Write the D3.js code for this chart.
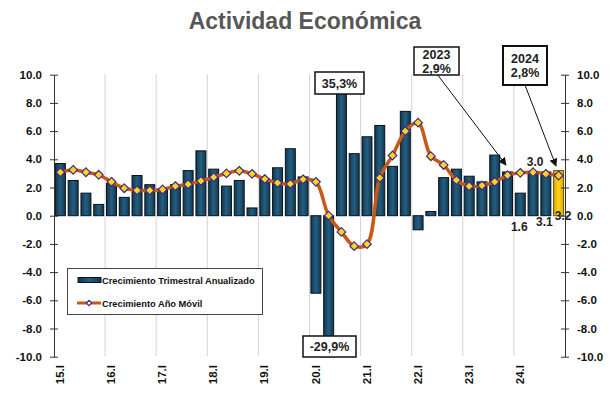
<!DOCTYPE html>
<html>
<head>
<meta charset="utf-8">
<script src="https://cdn.jsdelivr.net/npm/d3@7"></script>
<style>
body { margin: 0; background: #fff; }
text { font-family: "Liberation Sans", Arial, sans-serif; }
</style>
</head>
<body>
<div id="chart"></div>
<script>
// quarters 2015.I .. 2024.IV
var years = ["15", "16", "17", "18", "19", "20", "21", "22", "23", "24"];
var quarters = [];
years.forEach(function(y) { ["I", "II", "III", "IV"].forEach(function(q) { quarters.push(y + "." + q); }); });

// Crecimiento Trimestral Anualizado
var trimestral = [3.7, 2.5, 1.6, 0.8, 2.3, 1.3, 2.85, 2.2,
                  1.9, 2.2, 3.2, 4.6, 3.3, 2.1, 2.5, 0.55,
                  2.6, 3.4, 4.75, 2.75, -5.5, -29.9, 35.3, 4.4,
                  5.6, 6.4, 3.5, 7.4, -1.0, 0.3, 2.7, 3.3,
                  2.8, 2.4, 4.3, 3.1, 1.6, 3.0, 3.1, 3.2];

// Crecimiento Año Móvil
var anioMovil = [3.08, 3.25, 3.08, 2.9, 2.4, 1.95, 1.8, 1.8,
                 1.86, 2.1, 2.23, 2.47, 2.73, 3.0, 3.18, 2.97,
                 2.6, 2.33, 2.26, 2.58, 2.4, 0.0, -1.15, -2.16,
                 -2.02, 2.68, 4.27, 6.0, 6.6, 4.22, 3.6, 2.52,
                 2.09, 2.14, 2.4, 2.87, 3.04, 3.08, 2.97, 2.85];

var yTicks = [10, 8, 6, 4, 2, 0, -2, -4, -6, -8, -10];

var W = 614, H = 394;
var pLeft = 54, pRight = 565, pTop = 74.7, pBottom = 356.7;

var svg = d3.select("#chart").append("svg")
    .attr("width", W)
    .attr("height", H);

var pad = 0.22;
var x = d3.scaleBand().domain(quarters).range([pLeft, pRight])
    .paddingInner(pad).paddingOuter(pad / 2);
var y = d3.scaleLinear().domain([-10, 10]).range([pBottom, pTop]);

function clampV(v) { return Math.max(-10, Math.min(10, v)); }
function bound(q) { return x(q) - x.step() * pad / 2; }

// title
svg.append("text")
    .attr("x", 305).attr("y", 29)
    .attr("text-anchor", "middle")
    .style("font-size", "23px").style("font-weight", "bold")
    .style("fill", "#575757")
    .text("Actividad Económica");

// vertical gridlines at each year
var yearStarts = years.slice(1).map(function(yv) { return yv + ".I"; });
svg.append("g").selectAll("line")
    .data(yearStarts)
    .enter().append("line")
    .attr("x1", function(d) { return bound(d); })
    .attr("x2", function(d) { return bound(d); })
    .attr("y1", pTop).attr("y2", pBottom)
    .attr("stroke", "#a8a8a8")
    .attr("stroke-width", 1)
    .attr("stroke-dasharray", "1,1");

// gradient for bars
var defs = svg.append("defs");
var g1 = defs.append("linearGradient").attr("id", "barGrad").attr("x1", "0").attr("x2", "1");
g1.append("stop").attr("offset", "0%").attr("stop-color", "#113750");
g1.append("stop").attr("offset", "50%").attr("stop-color", "#255f80");
g1.append("stop").attr("offset", "100%").attr("stop-color", "#113750");
var g2 = defs.append("linearGradient").attr("id", "goldGrad").attr("x1", "0").attr("x2", "1");
g2.append("stop").attr("offset", "0%").attr("stop-color", "#e0a800");
g2.append("stop").attr("offset", "50%").attr("stop-color", "#ffd21a");
g2.append("stop").attr("offset", "100%").attr("stop-color", "#e0a800");

// bars
svg.append("g").selectAll("rect")
    .data(trimestral)
    .enter().append("rect")
    .attr("x", function(d, i) { return x(quarters[i]); })
    .attr("width", x.bandwidth())
    .attr("y", function(d) { return y(Math.max(0, clampV(d))); })
    .attr("height", function(d) { return Math.abs(y(clampV(d)) - y(0)); })
    .attr("fill", function(d, i) { return i == trimestral.length - 1 ? "url(#goldGrad)" : "url(#barGrad)"; })
    .attr("stroke", function(d, i) { return i == trimestral.length - 1 ? "#6b5200" : "#08131c"; })
    .attr("stroke-width", 1);

// smoothed line
var line = d3.line()
    .x(function(d, i) { return x(quarters[i]) + x.bandwidth() / 2; })
    .y(function(d) { return y(d); })
    .curve(d3.curveCatmullRom);

svg.append("path")
    .datum(anioMovil)
    .attr("d", line)
    .attr("fill", "none")
    .attr("stroke", "#c8581a")
    .attr("stroke-width", 3.5);

var diamond = d3.symbol().type(d3.symbolDiamond2).size(48);
svg.append("g").selectAll("path")
    .data(anioMovil)
    .enter().append("path")
    .attr("d", diamond)
    .attr("transform", function(d, i) { return "translate(" + (x(quarters[i]) + x.bandwidth() / 2) + "," + y(d) + ")"; })
    .attr("fill", "#ffd21f")
    .attr("stroke", "#3b2c8a")
    .attr("stroke-width", 1.2);

// axes
function fmt(d) { return d.toFixed(1); }
var axL = svg.append("g")
    .attr("transform", "translate(" + pLeft + ",0)")
    .call(d3.axisLeft(y).tickValues(yTicks).tickFormat(fmt).tickSizeOuter(0).tickSizeInner(4).tickPadding(8));
var axR = svg.append("g")
    .attr("transform", "translate(" + pRight + ",0)")
    .call(d3.axisRight(y).tickValues(yTicks).tickFormat(fmt).tickSizeOuter(0).tickSizeInner(4).tickPadding(8));
[axL, axR].forEach(function(ax) {
    ax.select(".domain").attr("stroke", "#333");
    ax.selectAll(".tick line").attr("x1", -4).attr("x2", 4).attr("stroke", "#333");
    ax.selectAll(".tick text")
        .style("font-size", "11.5px").style("font-weight", "bold").style("fill", "#111");
});

// x labels (rotated)
svg.append("g").selectAll("text")
    .data(years)
    .enter().append("text")
    .attr("transform", function(d) { return "translate(" + (bound(d + ".I") + 10) + "," + 365 + ") rotate(-90)"; })
    .attr("text-anchor", "end")
    .style("font-size", "11.5px").style("font-weight", "bold").style("fill", "#111")
    .text(function(d) { return d + ".I"; });

// value labels
var valLabels = [
    {q: "24.I", v: 1.6, dx: -1, dy: 15},
    {q: "24.II", v: 3.0, dx: 2, dy: -7},
    {q: "24.III", v: 3.1, dx: -1.5, dy: 10},
    {q: "24.IV", v: 3.2, dx: 4.5, dy: 4}
];
svg.append("g").selectAll("text")
    .data(valLabels)
    .enter().append("text")
    .attr("x", function(d) { return x(d.q) + x.bandwidth() / 2 + d.dx; })
    .attr("y", function(d) {
        var base = d.dy > 0 ? y(0) : y(d.v);
        return base + d.dy;
    })
    .attr("text-anchor", "middle")
    .style("font-size", "12px").style("font-weight", "bold").style("fill", "#222")
    .text(function(d) { return d.v.toFixed(1); });

// annotation boxes
function box(x0, y0, w, h, lines, sw) {
    var g = svg.append("g");
    g.append("rect").attr("x", x0).attr("y", y0).attr("width", w).attr("height", h)
        .attr("fill", "#fff").attr("stroke", "#111").attr("stroke-width", sw);
    lines.forEach(function(t, i) {
        g.append("text")
            .attr("x", x0 + w / 2)
            .attr("y", y0 + h / 2 + 4.5 + (i - (lines.length - 1) / 2) * 14)
            .attr("text-anchor", "middle")
            .style("font-size", "12.5px").style("font-weight", "bold").style("fill", "#222")
            .text(t);
    });
}

defs.append("marker").attr("id", "arr")
    .attr("viewBox", "0 0 10 10").attr("refX", 9).attr("refY", 5)
    .attr("markerWidth", 8).attr("markerHeight", 8).attr("orient", "auto")
    .append("path").attr("d", "M0,0 L10,5 L0,10 z").attr("fill", "#111");

svg.append("line").attr("x1", 437).attr("y1", 74).attr("x2", 506).attr("y2", 165)
    .attr("stroke", "#111").attr("stroke-width", 1).attr("marker-end", "url(#arr)");
svg.append("line").attr("x1", 525).attr("y1", 85).attr("x2", 556).attr("y2", 166)
    .attr("stroke", "#111").attr("stroke-width", 1).attr("marker-end", "url(#arr)");

box(414, 47, 45, 28, ["2023", "2,9%"], 1.5);
box(503, 46, 44, 39, ["2024", "2,8%"], 2);
box(315, 72, 49, 22, ["35,3%"], 1.5);
box(303, 336, 53, 21, ["-29,9%"], 1.5);

// legend
var lg = svg.append("g");
lg.append("rect").attr("x", 67.5).attr("y", 268.5).attr("width", 195).attr("height", 46)
    .attr("fill", "#fff").attr("stroke", "#444").attr("stroke-width", 1);
lg.append("rect").attr("x", 78).attr("y", 277.5).attr("width", 23).attr("height", 5)
    .attr("fill", "url(#barGrad)").attr("stroke", "#08131c").attr("stroke-width", 1);
lg.append("line").attr("x1", 77).attr("x2", 101).attr("y1", 303).attr("y2", 303)
    .attr("stroke", "#c8581a").attr("stroke-width", 3);
lg.append("path").attr("d", d3.symbol().type(d3.symbolDiamond2).size(18))
    .attr("transform", "translate(89,303)")
    .attr("fill", "#fff").attr("stroke", "#3b2c8a").attr("stroke-width", 1.2);
lg.append("text").attr("x", 102).attr("y", 284)
    .style("font-size", "9.3px").style("font-weight", "bold").style("fill", "#111")
    .text("Crecimiento Trimestral Anualizado");
lg.append("text").attr("x", 102).attr("y", 306.5)
    .style("font-size", "9.3px").style("font-weight", "bold").style("fill", "#111")
    .text("Crecimiento Año Móvil");
</script>
</body>
</html>
